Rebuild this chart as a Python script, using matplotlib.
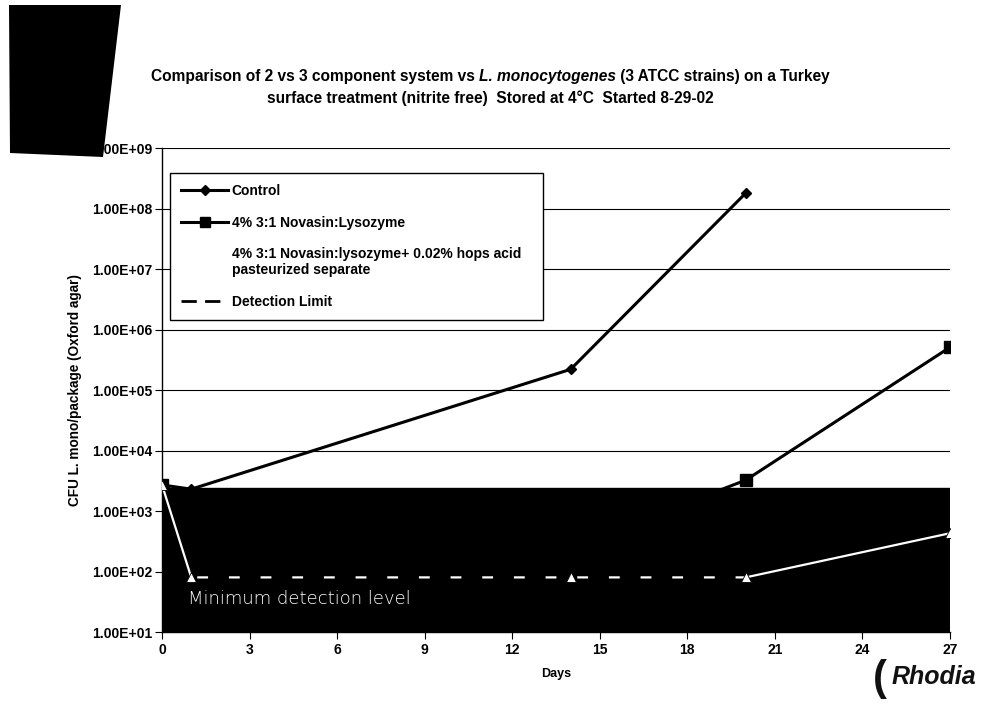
import numpy as np
import matplotlib
matplotlib.use("Agg")
import matplotlib.pyplot as plt
from matplotlib.lines import Line2D
from matplotlib.patches import Polygon

plt.rcParams["font.family"] = ["Liberation Sans", "DejaVu Sans"]

# data
days_control = [0, 1, 14, 20]
cfu_control = [2700, 2300, 2.2e5, 1.8e8]

days_two = [0, 1, 14, 20, 27]
cfu_two = [2700, 1500, 250, 3240, 5.1e5]

days_three = [0, 1, 14, 20, 27]
cfu_three = [2700, 80, 80, 80, 430]

days_limit = [1, 20]
cfu_limit = [80, 80]

redact_low, redact_high = 10, 2400

xticks = list(range(0, 28, 3))
yticks = [1e1, 1e2, 1e3, 1e4, 1e5, 1e6, 1e7, 1e8, 1e9]
ytick_labels = ["1.00E+01", "1.00E+02", "1.00E+03", "1.00E+04", "1.00E+05",
                "1.00E+06", "1.00E+07", "1.00E+08", "1.00E+09"]

labels = ["Control", "4% 3:1 Novasin:Lysozyme",
          "4% 3:1 Novasin:lysozyme+ 0.02% hops acid\npasteurized separate",
          "Detection Limit"]

fig = plt.figure(figsize=(9.85, 7.05), dpi=100)
ax = fig.add_axes([0.1645, 0.1035, 0.80, 0.6865])

ax.set_yscale("log")
ax.set_xlim(0, 27)
ax.set_ylim(1e1, 1e9)

for y in yticks[1:]:
    ax.axhline(y, color="black", lw=0.8, zorder=1)

ax.plot(days_two, cfu_two, color="black", lw=2.2, marker="s", ms=8, zorder=2)
ax.plot(days_control, cfu_control, color="black", lw=2.2, marker="D", ms=5, zorder=2.2)

# the black box over the lower part of the plot
ax.axhspan(redact_low, redact_high, color="black", zorder=3)

ax.plot(days_three, cfu_three, color="white", lw=1.6, zorder=4)
# black dashed limit drawn over the white line leaves short white dashes
ax.plot(days_limit, cfu_limit, color="black", lw=3, ls=(3.5, (5, 2.6)), zorder=4.2)
ax.plot(days_three, cfu_three, ls="none", marker="^", ms=7,
        mfc="white", mec="black", mew=0.6, zorder=4.5)

ax.text(0.9, 35, "Minimum detection level", color="white", fontsize=13,
        family="DejaVu Sans", fontweight="light", va="center", zorder=5)

ax.set_xticks(xticks)
ax.set_yticks(yticks)
ax.set_yticklabels(ytick_labels)
ax.yaxis.set_minor_locator(matplotlib.ticker.NullLocator())
ax.tick_params(axis="both", direction="out", length=5, width=0.8, labelsize=10, pad=2)
ax.tick_params(axis="x", pad=3)
for lab in ax.get_xticklabels() + ax.get_yticklabels():
    lab.set_fontweight("bold")

for side in ["top", "right"]:
    ax.spines[side].set_visible(False)
ax.spines["left"].set_linewidth(1.0)
ax.spines["bottom"].set_linewidth(1.0)

ax.set_xlabel("Days", fontsize=9, fontweight="bold", labelpad=8)
ax.set_ylabel("CFU L. mono/package (Oxford agar)", fontsize=9.8,
              fontweight="bold", labelpad=7)

handles = [
    Line2D([], [], color="black", lw=2.2, marker="D", ms=5),
    Line2D([], [], color="black", lw=2.2, marker="s", ms=7),
    Line2D([], [], color="white", lw=2),
    Line2D([], [], color="black", lw=2, ls=(0, (5.5, 3))),
]
leg = ax.legend(handles, labels, loc="upper left",
                bbox_to_anchor=(0.01, 0.634, 0.473, 0.314), mode="expand",
                borderaxespad=0,
                fancybox=False, edgecolor="black", framealpha=1,
                prop={"size": 10, "weight": "bold"}, handlelength=3.4,
                handletextpad=0.25, labelspacing=1.25, borderpad=0.8)
leg.get_frame().set_linewidth(1.0)
leg.set_zorder(6)

# title, with the species name in italics
renderer = fig.canvas.get_renderer()
parts = [("Comparison of 2 vs 3 component system vs ", "normal"),
         ("L. monocytogenes", "italic"),
         (" (3 ATCC strains) on a Turkey", "normal")]
texts = []
for s, style in parts:
    t = fig.text(0, 1 - 77 / 705, s, fontsize=11.2, fontweight="bold",
                 fontstyle=style, va="center", ha="left")
    texts.append(t)
widths = [t.get_window_extent(renderer).width for t in texts]
start = 490 - sum(widths) / 2
for t, w in zip(texts, widths):
    t.set_x(start / 985)
    start += w
fig.text(490 / 985, 1 - 98 / 705,
         "surface treatment (nitrite free)  Stored at 4\u00b0C  Started 8-29-02",
         fontsize=11.2, fontweight="bold", ha="center", va="center")

fig.text(934 / 985, 1 - 677 / 705, "Rhodia", fontsize=18, fontweight="bold",
         fontstyle="italic", ha="center", va="center", color="#111111")
fig.text(880 / 985, 1 - 679 / 705, "(", fontsize=30, fontweight="bold",
         ha="center", va="center", color="#111111")

# dark scan smudge in the top-left corner
corners = [(9, 5), (121, 5), (103, 157), (10, 153)]
smudge = Polygon([(px, 705 - py) for px, py in corners], closed=True,
                 facecolor="black", edgecolor="none",
                 transform=None, zorder=10)
fig.patches.append(smudge)

fig.savefig("out.png", dpi=100)
